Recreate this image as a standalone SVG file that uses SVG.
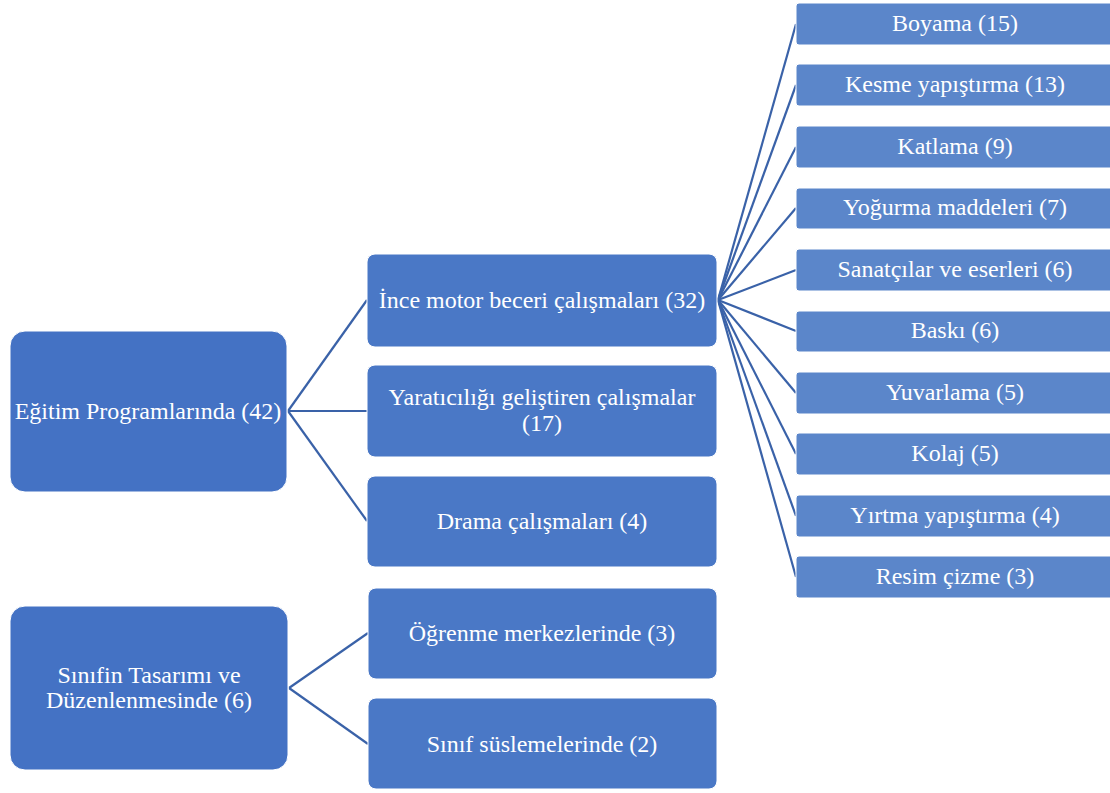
<svg xmlns="http://www.w3.org/2000/svg" width="1110" height="793" viewBox="0 0 1110 793">
<style>
.l0{fill:#4472C4;stroke:#ffffff;stroke-width:1}
.l1{fill:#4A78C6;stroke:#ffffff;stroke-width:1}
.l2{fill:#5B86CA;stroke:#ffffff;stroke-width:1}
text{font-family:"Liberation Serif","Times New Roman",serif;font-size:24px;fill:#ffffff;text-anchor:middle;dominant-baseline:central}
.c line{stroke:#3A62A8;stroke-width:2.2}
</style>
<rect width="1110" height="793" fill="#ffffff"/>
<g class="c" id="connectors">
<line x1="288" y1="411" x2="367" y2="300"/>
<line x1="288" y1="411" x2="367" y2="411"/>
<line x1="288" y1="411" x2="367" y2="521"/>
<line x1="289" y1="688" x2="368" y2="633"/>
<line x1="289" y1="688" x2="368" y2="744"/>
<line x1="718" y1="300" x2="796" y2="24"/>
<line x1="718" y1="300" x2="796" y2="85"/>
<line x1="718" y1="300" x2="796" y2="147"/>
<line x1="718" y1="300" x2="796" y2="208"/>
<line x1="718" y1="300" x2="796" y2="270"/>
<line x1="718" y1="300" x2="796" y2="331"/>
<line x1="718" y1="300" x2="796" y2="393"/>
<line x1="718" y1="300" x2="796" y2="454"/>
<line x1="718" y1="300" x2="796" y2="516"/>
<line x1="718" y1="300" x2="796" y2="577"/>
</g>
<g id="n-egitim"><rect class="l0" x="10" y="331" width="277" height="161" rx="15"/><text x="148" y="411">Eğitim Programlarında (42)</text></g>
<g id="n-sinif"><rect class="l0" x="10" y="606" width="278" height="164" rx="15"/><text x="149" y="675">Sınıfin Tasarımı ve</text><text x="149" y="700">Düzenlenmesinde (6)</text></g>
<g id="n-ince"><rect class="l1" x="367" y="254" width="350" height="93" rx="8"/><text x="542" y="300">İnce motor beceri çalışmaları (32)</text></g>
<g id="n-yarat"><rect class="l1" x="367" y="365" width="350" height="92" rx="8"/><text x="542" y="397">Yaratıcılığı geliştiren çalışmalar</text><text x="542" y="423">(17)</text></g>
<g id="n-drama"><rect class="l1" x="367" y="476" width="350" height="91" rx="8"/><text x="542" y="521">Drama çalışmaları (4)</text></g>
<g id="n-ogrenme"><rect class="l1" x="368" y="588" width="349" height="91" rx="8"/><text x="542" y="633">Öğrenme merkezlerinde (3)</text></g>
<g id="n-sus"><rect class="l1" x="368" y="698" width="349" height="91" rx="8"/><text x="542" y="744">Sınıf süslemelerinde (2)</text></g>
<g id="n-boyama"><rect class="l2" x="796" y="3" width="320" height="42" rx="3"/><text x="955" y="23">Boyama (15)</text></g>
<g id="n-kesme"><rect class="l2" x="796" y="64" width="320" height="42" rx="3"/><text x="955" y="84">Kesme yapıştırma (13)</text></g>
<g id="n-katlama"><rect class="l2" x="796" y="126" width="320" height="42" rx="3"/><text x="955" y="146">Katlama (9)</text></g>
<g id="n-yogurma"><rect class="l2" x="796" y="188" width="320" height="41" rx="3"/><text x="955" y="207">Yoğurma maddeleri (7)</text></g>
<g id="n-sanat"><rect class="l2" x="796" y="249" width="320" height="42" rx="3"/><text x="955" y="269">Sanatçılar ve eserleri (6)</text></g>
<g id="n-baski"><rect class="l2" x="796" y="311" width="320" height="41" rx="3"/><text x="955" y="330">Baskı (6)</text></g>
<g id="n-yuvarlama"><rect class="l2" x="796" y="372" width="320" height="42" rx="3"/><text x="955" y="392">Yuvarlama (5)</text></g>
<g id="n-kolaj"><rect class="l2" x="796" y="433" width="320" height="42" rx="3"/><text x="955" y="453">Kolaj (5)</text></g>
<g id="n-yirtma"><rect class="l2" x="796" y="495" width="320" height="42" rx="3"/><text x="955" y="515">Yırtma yapıştırma (4)</text></g>
<g id="n-resim"><rect class="l2" x="796" y="556" width="320" height="42" rx="3"/><text x="955" y="576">Resim çizme (3)</text></g>
</svg>
